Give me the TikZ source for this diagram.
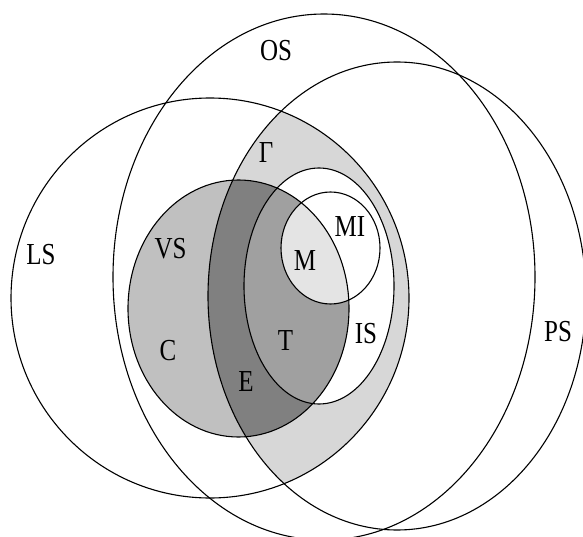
\documentclass[tikz,border=0pt]{standalone}
\usepackage{fontspec}
\setmainfont{Liberation Serif}
\usepackage{graphicx}
\definecolor{gamcol}{RGB}{215,215,215}
\definecolor{vscol}{RGB}{192,192,192}
\definecolor{ecol}{RGB}{128,128,128}
\definecolor{tcol}{RGB}{160,160,160}
\definecolor{mcol}{RGB}{228,228,228}
\newcommand{\stretchlab}[1]{\scalebox{1}[1.22]{#1}}
\tikzset{
  setline/.style={draw=black, line width=1.1pt},
  lbl/.style={font=\fontsize{25}{25}\selectfont, inner sep=0pt, text=black}
}
\begin{document}
\begin{tikzpicture}[x=1pt,y=-1pt]
\useasboundingbox (0,0) rectangle (583,537);
\clip (0,0) rectangle (583,537);
\fill[white] (0,0) rectangle (583,537);
% centres
\coordinate (os) at (324,277);
\coordinate (ps) at (397,296);
\coordinate (ls) at (210,298);
\coordinate (vs) at (238.5,308.5);
\coordinate (is) at (319,286);
\coordinate (mi) at (330.5,248);
\tikzset{
  OSe/.style={x radius=211pt, y radius=263pt},
  PSe/.style={x radius=189pt, y radius=234pt},
  LSe/.style={x radius=199pt, y radius=200pt},
  VSe/.style={x radius=110.5pt, y radius=128.5pt},
  ISe/.style={x radius=75pt, y radius=118pt},
  MIe/.style={x radius=49.5pt, y radius=56pt}
}
% Gamma region: LS cap PS
\begin{scope}
  \clip (ls) ellipse [LSe];
  \fill[gamcol] (ps) ellipse [PSe];
\end{scope}
\fill[white] (is) ellipse [ISe];
\fill[vscol] (vs) ellipse [VSe];
\begin{scope}
  \clip (vs) ellipse [VSe];
  \fill[ecol] (ps) ellipse [PSe];
  \fill[tcol] (is) ellipse [ISe];
  \fill[mcol] (mi) ellipse [MIe];
\end{scope}
% outlines
\draw[setline] (os) ellipse [OSe];
\draw[setline] (ps) ellipse [PSe];
\draw[setline] (ls) ellipse [LSe];
\draw[setline] (vs) ellipse [VSe];
\draw[setline] (is) ellipse [ISe];
\draw[setline] (mi) ellipse [MIe];
% labels
\node[lbl] (lOS) at (276,51) {\stretchlab{OS}};
\node[lbl] (lLS) at (41,255) {\stretchlab{LS}};
\node[lbl] (lPS) at (558,332) {\stretchlab{PS}};
\node[lbl] (lG) at (266,153) {\stretchlab{Γ}};
\node[lbl] (lVS) at (170.5,248.5) {\stretchlab{VS}};
\node[lbl] (lC) at (168,351) {\stretchlab{C}};
\node[lbl] (lE) at (246,382) {\stretchlab{E}};
\node[lbl] (lT) at (285.5,341) {\stretchlab{T}};
\node[lbl] (lM) at (305,261) {\stretchlab{M}};
\node[lbl] (lMI) at (350,227) {\stretchlab{MI}};
\node[lbl] (lIS) at (366,334) {\stretchlab{IS}};
\end{tikzpicture}
\end{document}
